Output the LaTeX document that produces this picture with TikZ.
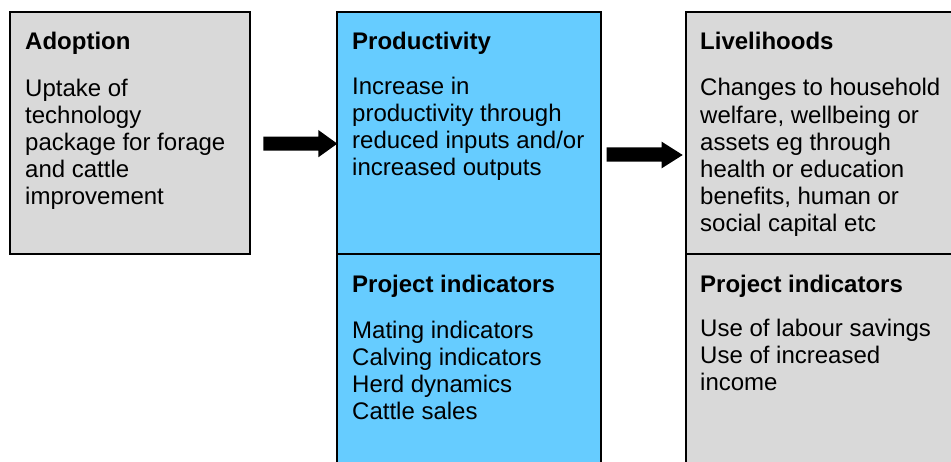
\documentclass[tikz,border=0pt]{standalone}
\usepackage{fontspec}
\setmainfont{Liberation Sans}
\definecolor{boxgrey}{HTML}{D9D9D9}
\definecolor{boxblue}{HTML}{66CCFF}
\begin{document}
\begin{tikzpicture}[x=1pt,y=-1pt,
  box/.style={draw=black, line width=2pt, anchor=north west, inner sep=0pt, outer sep=0pt},
  title/.style={anchor=base west, inner sep=0pt, font=\fontsize{24}{27.2}\selectfont\bfseries},
  body/.style={anchor=base west, inner sep=0pt, align=left, font=\fontsize{24}{27.2}\selectfont},
  blockarrow/.style={fill=black}]
\useasboundingbox (0,0) rectangle (951,462);
\clip (0,0) rectangle (951,462);
% boxes
\node[box, fill=boxgrey, minimum width=240pt, minimum height=242pt] (adopt) at (10,12) {};
\node[box, fill=boxblue, minimum width=264pt, minimum height=242pt] (prod) at (337,12) {};
\node[box, fill=boxblue, minimum width=264pt, minimum height=225pt] (projA) at (337,254) {};
\node[box, fill=boxgrey, minimum width=280pt, minimum height=242pt] (live) at (686,12) {};
\node[box, fill=boxgrey, minimum width=280pt, minimum height=225pt] (projB) at (686,254) {};
% texts (body nodes are placed at the baseline of their last line)
\node[title] (t1) at (25,50) {Adoption};
\node[body] (b1) at (25,205) {Uptake of\\technology\\package for forage\\and cattle\\improvement};
\node[title] (t2) at (352,50) {Productivity};
\node[body] (b2) at (352,176) {Increase in\\productivity through\\reduced inputs and/or\\increased outputs};
\node[title] (t3) at (352,293) {Project indicators};
\node[body] (b3) at (352,420) {Mating indicators\\Calving indicators\\Herd dynamics\\Cattle sales};
\node[title] (t4) at (700,50) {Livelihoods};
\node[body] (b4) at (700,232) {Changes to household\\welfare, wellbeing or\\assets eg through\\health or education\\benefits, human or\\social capital etc};
\node[title] (t5) at (700,293) {Project indicators};
\node[body] (b5) at (700,391) {Use of labour savings\\Use of increased\\income};
% block arrows
\fill[blockarrow] (263.3,136.7) -- (318.3,136.7) -- (318.3,130) -- (337.3,143.7) -- (318.3,157.3) -- (318.3,150.7) -- (263.3,150.7) -- cycle;
\fill[blockarrow] (606.7,147.3) -- (661.7,147.3) -- (661.7,141.7) -- (682.7,155) -- (661.7,168.3) -- (661.7,161.7) -- (606.7,161.7) -- cycle;
\end{tikzpicture}
\end{document}
